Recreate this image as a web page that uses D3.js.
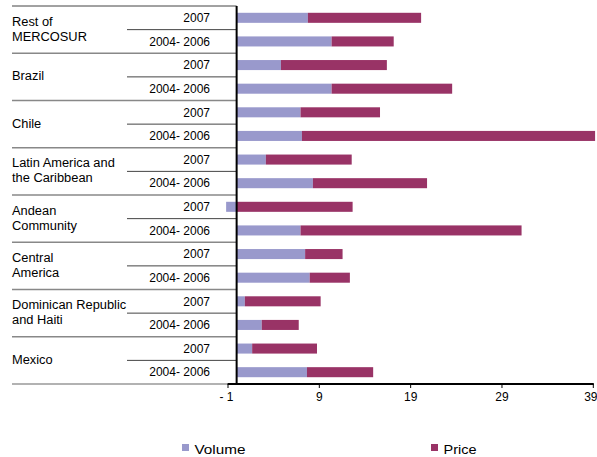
<!DOCTYPE html>
<html><head><meta charset="utf-8">
<script src="https://cdn.jsdelivr.net/npm/d3@7"></script>
<style>body{margin:0;background:#fff}svg{display:block}text{font-family:"Liberation Sans",Arial,sans-serif}</style>
</head><body><svg id="c" width="597" height="457"></svg>
<script>
const groups = [["Rest of","MERCOSUR"],["Brazil"],["Chile"],["Latin America and","the Caribbean"],["Andean","Community"],["Central","America"],["Dominican Republic","and Haiti"],["Mexico"]];
const periods = ["2007","2004- 2006"];
const volume = [7.8,10.4, 4.85,10.4, 7.0,7.15, 3.2,8.35, -1.15,7.0, 7.5,8.0, 0.9,2.75, 1.7,7.7];
const price  = [12.4,6.8, 11.6,13.2, 8.7,32.1, 9.4,12.5, 12.7,24.2, 4.1,4.4, 8.3,4.05, 7.1,7.25];
const ticks = [-1,9,19,29,39];
const seriesNames = ["Volume","Price"];
const colors = ["#9999cc","#993366"];

(function(){
const svg = d3.select("#c");
const rows = [];
groups.forEach((g,gi)=>periods.forEach((p,pi)=>rows.push({id:gi+"_"+pi, g:gi, p:pi, Volume:volume[gi*2+pi], Price:price[gi*2+pi]})));

const x = d3.scaleLinear().domain([-1,39]).range([227.5,592.8]);
const y = d3.scaleBand().domain(rows.map(r=>r.id)).range([6,384]).paddingInner(0.575).paddingOuter(0.2875);
const bandStep = y.step();
const stack = d3.stack().keys(seriesNames).offset(d3.stackOffsetDiverging);
const st = stack(rows);

st.forEach((s,i)=>{
  svg.append("g").selectAll("rect").data(s).join("rect")
    .attr("x", d=>x(Math.min(d[0],d[1])))
    .attr("width", d=>Math.abs(x(d[1])-x(d[0])))
    .attr("y", d=>y(d.data.id))
    .attr("height", y.bandwidth())
    .attr("fill", colors[i]);
});

const x0 = x(0);
const topY = 6;
rows.forEach((r,i)=>{
  const yy = topY + i*bandStep;
  if(r.p===0){
    svg.append("line").attr("x1",12).attr("x2",x0).attr("y1",yy).attr("y2",yy)
      .attr("stroke", i===0?"#444":"#888").attr("stroke-width", i===0?1:1.5);
  } else {
    svg.append("line").attr("x1",127).attr("x2",x0).attr("y1",yy).attr("y2",yy)
      .attr("stroke","#444").attr("stroke-width",1);
  }
});
svg.append("line").attr("x1",12).attr("x2",x(-1)).attr("y1",384).attr("y2",384).attr("stroke","#999").attr("stroke-width",1.5);

rows.forEach(r=>{
  svg.append("text").attr("x",210).attr("y",y(r.id)+y.bandwidth()/2).attr("dy","0.35em")
    .attr("text-anchor","end").attr("font-size",12).attr("fill","#000").text(periods[r.p]);
});
function stretch(t,f){
  const n=t.node(); const w=n.getComputedTextLength();
  t.attr("textLength",w*f).attr("lengthAdjust","spacingAndGlyphs");
}
groups.forEach((g,gi)=>{
  const cy = topY + (gi*2+1)*bandStep - 0.8;
  const lh = 15;
  g.forEach((line,li)=>{
    const t = svg.append("text").attr("x",12).attr("y", cy + (li-(g.length-1)/2)*lh).attr("dy","0.35em")
      .attr("font-size",12).attr("fill","#000").text(line);
    stretch(t,1.07);
  });
});

const xa = svg.append("g").attr("transform","translate(0,384)")
  .call(d3.axisBottom(x).tickValues(ticks).tickSize(4).tickPadding(4).tickFormat(d=>d<0?"- "+Math.abs(d):d));
xa.select(".domain").attr("stroke","#000").attr("stroke-width",2).attr("d",`M${x(-1)},0H${x(39)+1}`);
xa.selectAll(".tick line").attr("stroke","#000").attr("stroke-width",1);
xa.selectAll(".tick text").attr("font-size",12).attr("fill","#000").attr("font-family","Liberation Sans, Arial, sans-serif");
xa.selectAll(".tick text").filter(d=>d===39).attr("dx","-2.5");
xa.selectAll(".tick text").filter(d=>d===-1).attr("dx","-1.5");

svg.append("line").attr("x1",x0).attr("x2",x0).attr("y1",topY).attr("y2",385).attr("stroke","#000").attr("stroke-width",2);

const lx = [182,431];
const lw = [51,33];
seriesNames.forEach((n,i)=>{
  svg.append("rect").attr("x",lx[i]).attr("y",444).attr("width",7).attr("height",7).attr("fill",colors[i]);
  svg.append("text").attr("x",lx[i]+12.5).attr("y",453.5).attr("font-size",12.5).attr("fill","#000")
    .attr("textLength",lw[i]).attr("lengthAdjust","spacingAndGlyphs").text(n);
});
})();
</script></body></html>
